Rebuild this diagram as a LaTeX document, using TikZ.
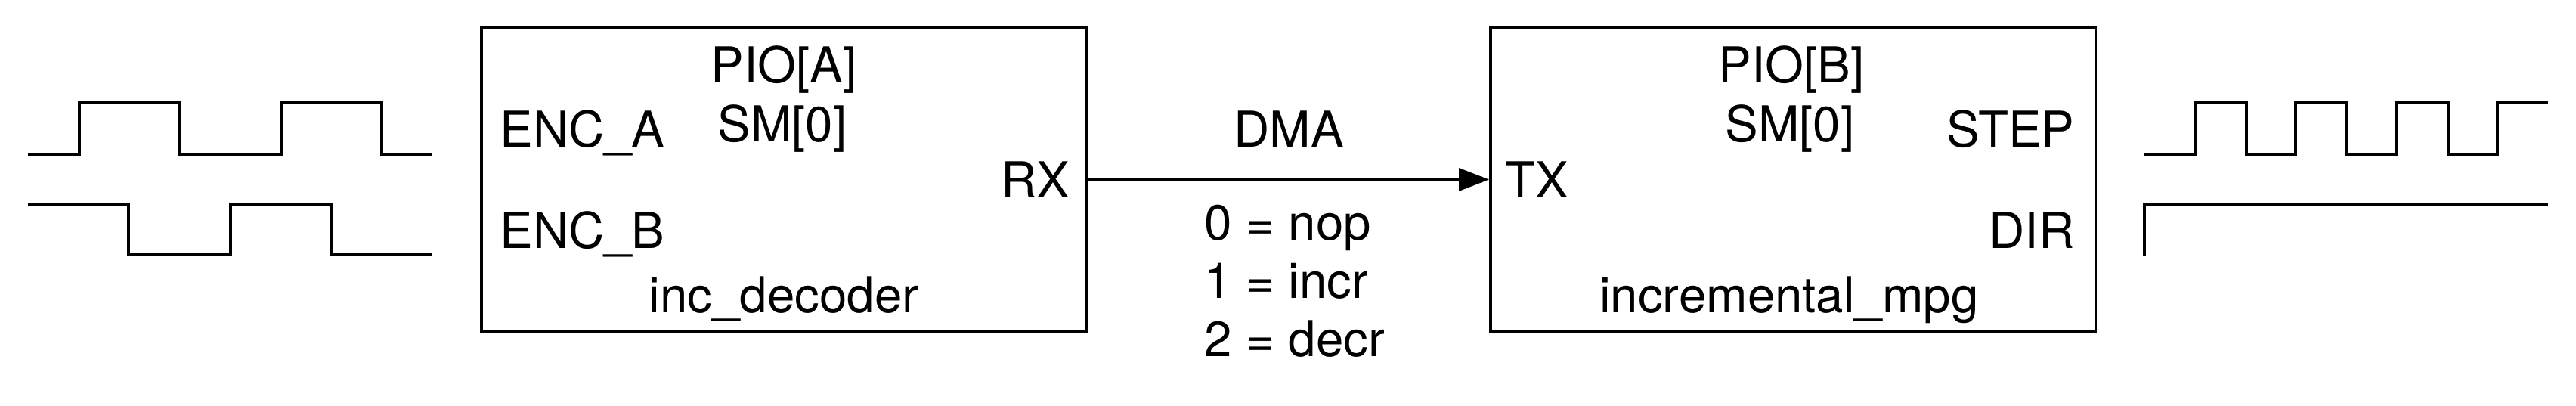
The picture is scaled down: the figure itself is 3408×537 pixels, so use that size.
\documentclass[tikz,border=0pt]{standalone}
\usepackage{fontspec}
\setmainfont{TeX Gyre Heros}
\usetikzlibrary{arrows.meta, positioning}

\begin{document}
\begin{tikzpicture}[x=0.01cm, y=-0.01cm, >={Triangle[length=0.4cm, width=0.3cm]},
  block/.style={rectangle, draw, line width=1pt, minimum width=8cm, minimum height=4.01cm},
  lbl/.style={inner sep=0pt, font=\fontsize{18.6}{22}\selectfont},
  wave/.style={line width=1.1pt, line join=miter}]
  \useasboundingbox (0,0) rectangle (3408,537);
  \node[block] (dec) at (1037,237.5) {};
  \node[block] (mpg) at (2372,237.5) {};
  \node[lbl, anchor=base] (pioA) at (1037,110) {PIO[A]};
  \node[lbl, anchor=base] (smA) at (1035,188) {SM[0]};
  \node[lbl, anchor=base west] (encA) at (661,195) {ENC\_A};
  \node[lbl, anchor=base west] (encB) at (661,329) {ENC\_B};
  \node[lbl, anchor=base east] (rx) at (1416,262) {RX};
  \node[lbl, anchor=base] (nameA) at (1037,414) {inc\_decoder};
  \node[lbl, anchor=base] (pioB) at (2370,110) {PIO[B]};
  \node[lbl, anchor=base] (smB) at (2368,188) {SM[0]};
  \node[lbl, anchor=base west] (tx) at (1991,262) {TX};
  \node[lbl, anchor=base east] (stp) at (2745,195) {STEP};
  \node[lbl, anchor=base east] (dir) at (2745,329) {DIR};
  \node[lbl, anchor=base] (nameB) at (2367,414) {incremental\_mpg};
  \draw[->, line width=1pt] (dec.east) -- (mpg.west);
  \node[lbl, anchor=base] (dma) at (1705,195) {DMA};
  \node[lbl, anchor=base west] (nop) at (1593,318) {0 = nop};
  \node[lbl, anchor=base west] (incr) at (1593,395) {1 = incr};
  \node[lbl, anchor=base west] (decr) at (1593,472) {2 = decr};
  \draw[wave] (37,204) -- (105,204) -- (105,136) -- (237,136) -- (237,204) -- (373,204)
    -- (373,136) -- (505,136) -- (505,204) -- (571,204);
  \draw[wave] (37,271) -- (170,271) -- (170,337) -- (305,337) -- (305,271) -- (438,271)
    -- (438,337) -- (571,337);
  \draw[wave] (2837,204) foreach \x in {2904,3037,3171} {-- (\x,204) -- (\x,136) -- (\x+68,136) -- (\x+68,204)}
    -- (3304,204) -- (3304,136) -- (3371,136);
  \draw[wave] (2837,338) -- (2837,271) -- (3371,271);
\end{tikzpicture}
\end{document}
